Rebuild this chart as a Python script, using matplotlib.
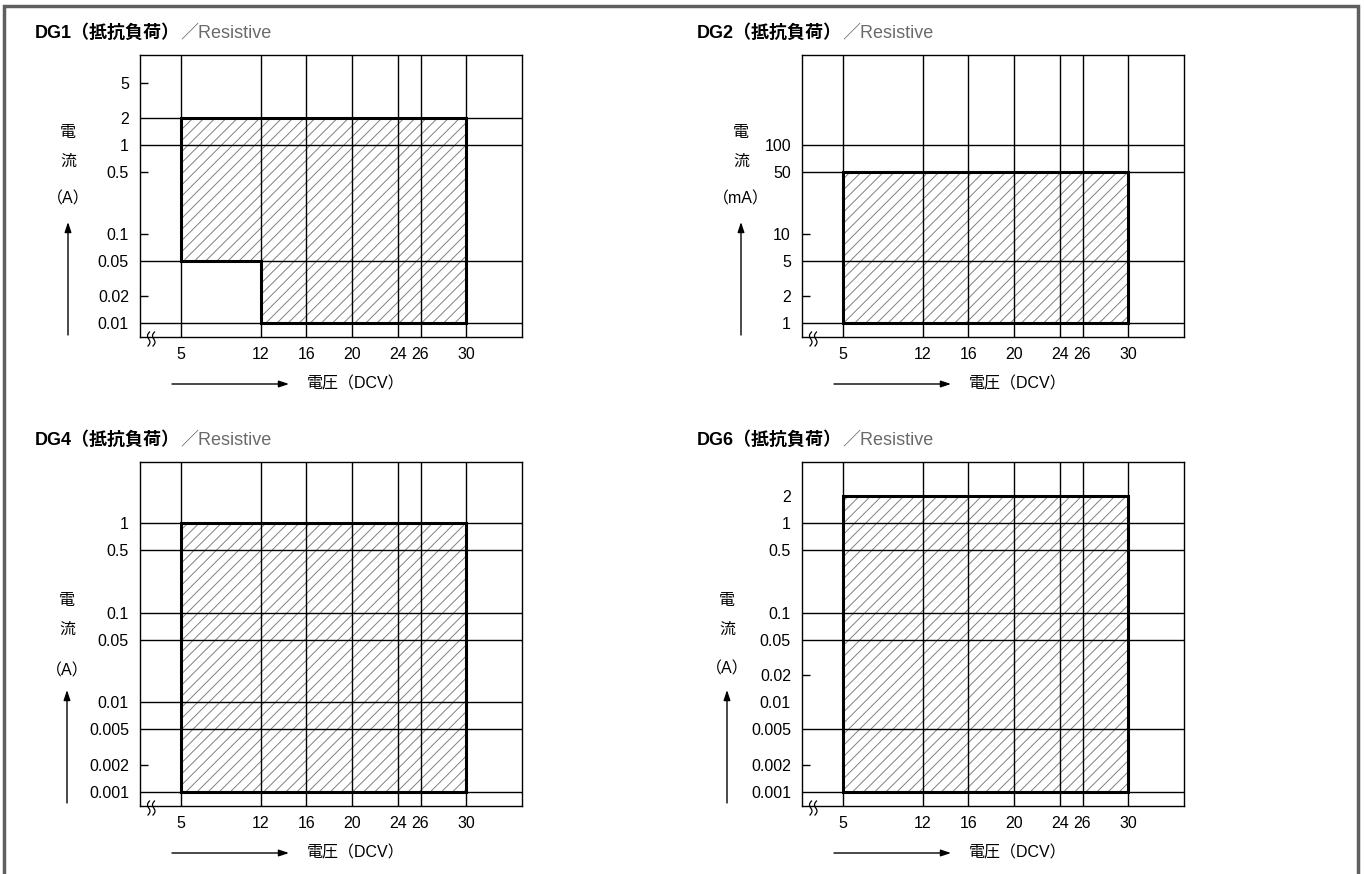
import numpy as np
import matplotlib
matplotlib.use('Agg')
import matplotlib.pyplot as plt
from matplotlib.patches import Polygon, Rectangle
from matplotlib.lines import Line2D
from matplotlib.ticker import FixedLocator, NullFormatter

plt.rcParams['font.family'] = ['Liberation Sans', 'Noto Sans CJK JP']
plt.rcParams['hatch.linewidth'] = 0.7
plt.rcParams['hatch.color'] = '#808080'

W, H = 1365, 874

# voltage ticks (DCV), same for every chart
volt_ticks = [5, 12, 16, 20, 24, 26, 30]

# DG1, current in A
dg1_ticks = [5, 2, 1, 0.5, 0.1, 0.05, 0.02, 0.01]
dg1_grid = [2, 1, 0.05, 0.01]
dg1_marks = [5, 0.5, 0.1, 0.02]
dg1_v = [5, 30, 30, 12, 12, 5]
dg1_i = [2, 2, 0.01, 0.01, 0.05, 0.05]

# DG2, current in mA
dg2_ticks = [100, 50, 10, 5, 2, 1]
dg2_grid = [100, 50, 5, 1]
dg2_marks = [10, 2]
dg2_v = [5, 30, 30, 5]
dg2_i = [50, 50, 1, 1]

# DG4, current in A
dg4_ticks = [1, 0.5, 0.1, 0.05, 0.01, 0.005, 0.002, 0.001]
dg4_grid = [1, 0.5, 0.1, 0.05, 0.01, 0.005, 0.001]
dg4_marks = [0.002]
dg4_v = [5, 30, 30, 5]
dg4_i = [1, 1, 0.001, 0.001]

# DG6, current in A
dg6_ticks = [2, 1, 0.5, 0.1, 0.05, 0.02, 0.01, 0.005, 0.002, 0.001]
dg6_grid = [1, 0.5, 0.1, 0.05, 0.005, 0.001]
dg6_marks = [0.02, 0.002]
dg6_v = [5, 30, 30, 5]
dg6_i = [2, 2, 0.001, 0.001]


def fmt(v):
    return ('%g' % v)


panels = [
    dict(name='DG1', ticks=dg1_ticks, grid=dg1_grid, marks=dg1_marks, v=dg1_v, i=dg1_i,
         box=(140, 55, 522, 337), ylim=(0.00696, 10.26), unit='（A）',
         lab_x=68, lab_y=(132, 161, 199), arr=(335, 222)),
    dict(name='DG2', ticks=dg2_ticks, grid=dg2_grid, marks=dg2_marks, v=dg2_v, i=dg2_i,
         box=(802, 55, 1184, 337), ylim=(0.696, 1026), unit='（mA）',
         lab_x=741, lab_y=(132, 161, 199), arr=(335, 222)),
    dict(name='DG4', ticks=dg4_ticks, grid=dg4_grid, marks=dg4_marks, v=dg4_v, i=dg4_i,
         box=(140, 462, 522, 806), ylim=(0.000698, 4.79), unit='（A）',
         lab_x=67, lab_y=(601, 629, 671), arr=(803, 690)),
    dict(name='DG6', ticks=dg6_ticks, grid=dg6_grid, marks=dg6_marks, v=dg6_v, i=dg6_i,
         box=(802, 462, 1184, 806), ylim=(0.000698, 4.79), unit='（A）',
         lab_x=727, lab_y=(601, 629, 669), arr=(803, 690)),
]

fig = plt.figure(figsize=(W / 100, H / 100), dpi=100)


def fx(x):
    return x / W


def fy(y):
    return 1 - y / H


for p in panels:
    L, T, R, B = p['box']
    ax = fig.add_axes([fx(L), fy(B), (R - L) / W, (B - T) / H])
    ax.set_yscale('log')
    ax.set_xlim(1.4, 34.9)
    ax.set_ylim(*p['ylim'])

    # hatched allowed area + thick outline
    pts = list(zip(p['v'], p['i']))
    ax.add_patch(Polygon(pts, closed=True, facecolor='none', edgecolor='#808080',
                         hatch='///', lw=0, zorder=1))
    ax.add_patch(Polygon(pts, closed=True, fill=False, edgecolor='k', lw=2.2,
                         zorder=4, joinstyle='miter'))

    for g in p['grid']:
        ax.axhline(g, color='k', lw=1.0, zorder=2)
    for v in volt_ticks:
        ax.axvline(v, color='k', lw=1.0, zorder=2)

    ax.set_xticks(volt_ticks)
    ax.set_xticklabels([str(v) for v in volt_ticks])
    ax.set_yticks(p['ticks'])
    ax.set_yticklabels([fmt(t) for t in p['ticks']])
    ax.yaxis.remove_overlapping_locs = False
    ax.yaxis.set_minor_locator(FixedLocator(p['marks']))
    ax.yaxis.set_minor_formatter(NullFormatter())
    ax.xaxis.set_minor_locator(FixedLocator([]))
    ax.tick_params(axis='x', length=0, pad=7, labelsize=11.5)
    ax.tick_params(axis='y', which='major', length=0, pad=8, labelsize=11.5)
    ax.tick_params(axis='y', which='minor', direction='in', length=6, width=1.0, color='k')
    for s in ax.spines.values():
        s.set_linewidth(1.0)
        s.set_color('k')

    # axis break squiggles at the bottom left
    t = np.linspace(0, 1, 40)
    for dx in (8, 13):
        xs = L + dx + 1.6 * np.sin(2 * np.pi * t) + 1.5 * t
        ys = B + 9 - 14 * t
        fig.add_artist(Line2D(fx(xs), fy(ys), color='k', lw=0.9,
                              transform=fig.transFigure))

    # title
    t1 = fig.text(fx(L - 105), fy(T - 22), p['name'] + '（抵抗負荷）', fontsize=13,
                  weight='bold', va='center', ha='left')
    ax.annotate('／Resistive', xy=(1, 0.5), xycoords=t1, va='center', ha='left',
                fontsize=13, color='#6a6a6a', annotation_clip=False)

    # y label stacked vertically with arrow
    for s, yy in zip(['電', '流', p['unit']], p['lab_y']):
        fig.text(fx(p['lab_x']), fy(yy), s, fontsize=11.5, ha='center', va='center')
    ax.annotate('', xy=(p['lab_x'], H - p['arr'][1]), xytext=(p['lab_x'], H - p['arr'][0]),
                xycoords='figure pixels', textcoords='figure pixels',
                arrowprops=dict(arrowstyle='-|>,head_length=0.6,head_width=0.2',
                                lw=1.0, color='k', shrinkA=0, shrinkB=0),
                annotation_clip=False)

    # x label with arrow
    ya = B + 47
    ax.annotate('', xy=(L + 149, H - ya), xytext=(L + 32, H - ya),
                xycoords='figure pixels', textcoords='figure pixels',
                arrowprops=dict(arrowstyle='-|>,head_length=0.6,head_width=0.2',
                                lw=1.0, color='k', shrinkA=0, shrinkB=0),
                annotation_clip=False)
    fig.text(fx(L + 167), fy(ya), '電圧（DCV）', fontsize=11.5, ha='left', va='center')

# outer frame (open at the bottom)
fig.add_artist(Rectangle((fx(4), -0.1), (1358 - 4) / W, fy(6) + 0.1, fill=False,
                         lw=2.5, edgecolor='#5f5f5f', transform=fig.transFigure))

fig.savefig('out.png', dpi=100)
